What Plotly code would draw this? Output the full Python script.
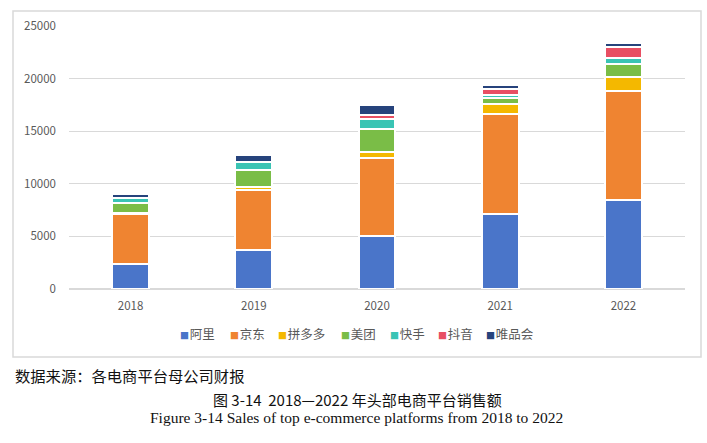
import plotly.graph_objects as go

years = ["2018", "2019", "2020", "2021", "2022"]
platforms = ["阿里", "京东", "拼多多", "美团", "快手", "抖音", "唯品会"]
ali = [2400, 3700, 5000, 7100, 8450]
jd = [4700, 5720, 7470, 9500, 10400]
pdd = [130, 260, 570, 950, 1330]
meituan = [950, 1660, 2190, 570, 1230]
kuaishou = [480, 720, 950, 290, 570]
douyin = [0, 50, 380, 600, 1000]
vip = [380, 610, 950, 340, 430]
y_ticks = [0, 5000, 10000, 15000, 20000, 25000]

series = [ali, jd, pdd, meituan, kuaishou, douyin, vip]
colors = ["#4A75C9", "#EF8431", "#F4B800", "#7ABD47", "#3AC4B4", "#E84F63", "#26437C"]
# left edge (px) of each legend swatch in the reference layout
legend_left = [182, 232, 280, 343, 392, 440, 488]

W, H = 707, 443
L, R, T, B = 69, 685, 26, 289
pw, ph = R - L, B - T


def px(x):
    return (x - L) / pw


def py(y):
    return (B - y) / ph


fig = go.Figure()
for name, vals, c in zip(platforms, series, colors):
    fig.add_trace(go.Bar(
        x=years, y=vals, name=name, marker=dict(color=c, line=dict(color="white", width=2)),
        showlegend=False, legendgroup=name,
    ))

legends = {}
for i, (name, c, sx) in enumerate(zip(platforms, colors, legend_left)):
    key = "legend" if i == 0 else f"legend{i + 1}"
    label = f"<span style='color:{c};font-size:9px'>■</span><span style='font-size:3px'> </span>{name}"
    fig.add_trace(go.Scatter(
        x=[None], y=[None], mode="markers", name=label, legendgroup=name,
        legend=key, marker=dict(symbol="square", size=1, color="rgba(0,0,0,0)"),
    ))
    legends[key] = dict(orientation="h", x=px(sx - 42), xanchor="left", y=py(334), yanchor="middle",
                        font=dict(size=12.5, color="#595959"), itemwidth=30,
                        bgcolor="rgba(0,0,0,0)", borderwidth=0)

fig.update_layout(
    width=W, height=H,
    margin=dict(l=L, r=W - R, t=T, b=H - B, pad=0),
    barmode="stack", bargap=0.70,
    plot_bgcolor="white", paper_bgcolor="white",
    font=dict(family="Noto Sans CJK SC, Noto Sans, sans-serif", color="#595959", size=11.5),
    showlegend=True,
    xaxis=dict(showgrid=False, showline=False, ticks="", ticklabelstandoff=8,
               tickfont=dict(size=11.5, color="#595959")),
    yaxis=dict(range=[0, 25000], tickvals=y_ticks, tickformat="d", showgrid=True, gridcolor="#D9D9D9",
               gridwidth=1, zeroline=True, zerolinecolor="#D9D9D9", zerolinewidth=1.5,
               showline=False, ticks="", ticklabelstandoff=12,
               tickfont=dict(size=11.5, color="#595959")),
    shapes=[dict(type="rect", xref="paper", yref="paper",
                 x0=px(13), x1=px(701), y0=py(357), y1=py(11),
                 line=dict(color="#D9D9D9", width=1.5), fillcolor="rgba(0,0,0,0)", layer="above")],
    annotations=[
        dict(text="数据来源：各电商平台母公司财报", xref="paper", yref="paper", x=px(13), y=py(375),
             xanchor="left", yanchor="middle", showarrow=False,
             font=dict(family="Noto Sans CJK SC", size=15.3, color="#111111")),
        dict(text="图 3-14  2018—2022 年头部电商平台销售额", xref="paper", yref="paper", x=px(357), y=py(399),
             xanchor="center", yanchor="middle", showarrow=False,
             font=dict(family="Noto Sans CJK SC", size=15, color="#111111")),
        dict(text="Figure 3-14 Sales of top e-commerce platforms from 2018 to 2022", xref="paper", yref="paper",
             x=px(356), y=py(418), xanchor="center", yanchor="middle", showarrow=False,
             font=dict(family="Liberation Serif, Times New Roman, serif", size=15.5, color="#111111")),
    ],
    **legends,
)

fig.write_html("out.html", post_script="document.body.style.margin='0px';",
               config={"displayModeBar": False})
